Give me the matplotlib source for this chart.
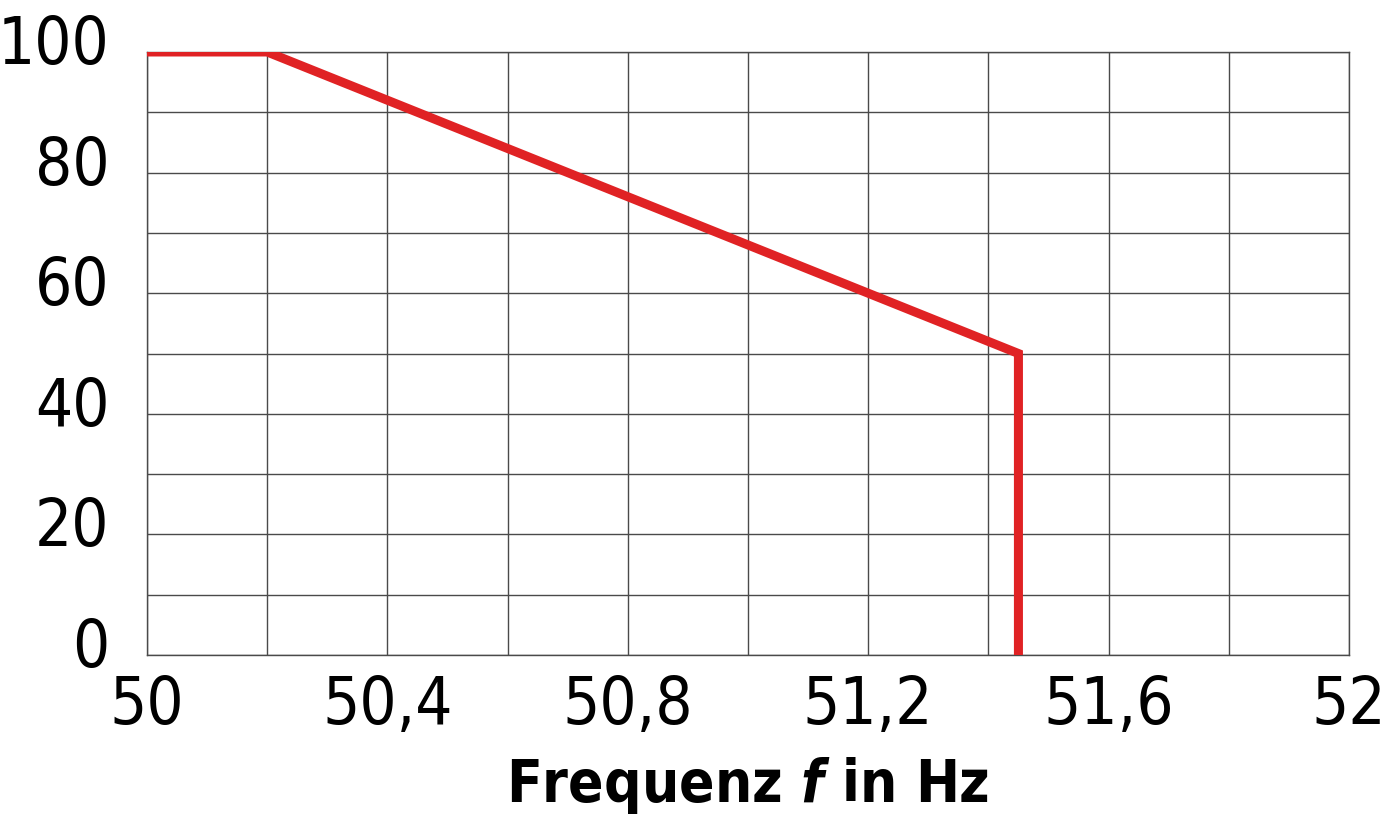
import matplotlib.pyplot as plt
import matplotlib.transforms as mtransforms
from matplotlib.ticker import MultipleLocator, FixedLocator

# data
freq = [50.0, 50.2, 51.45, 51.45]
power = [100, 100, 50, 0]
xticks = [50.0, 50.4, 50.8, 51.2, 51.6, 52.0]
xticklabels = ["50", "50,4", "50,8", "51,2", "51,6", "52"]
yticks = [0, 20, 40, 60, 80, 100]

plt.rcParams["font.family"] = ["DejaVu Sans"]
plt.rcParams["font.stretch"] = "condensed"
plt.rcParams["mathtext.fontset"] = "custom"
plt.rcParams["mathtext.bfit"] = "DejaVu Sans:bold:italic"

fig = plt.figure(figsize=(13.89, 8.25), dpi=100)
ax = fig.add_axes([0.1058, 0.206, 0.9712 - 0.1058, 0.937 - 0.206])

ax.plot(freq, power, color="#e02224", lw=6.5, solid_joinstyle="miter", zorder=3)

ax.set_xlim(50, 52)
ax.set_ylim(0, 100)
ax.xaxis.set_major_locator(FixedLocator(xticks))
ax.set_xticklabels(xticklabels)
ax.yaxis.set_major_locator(FixedLocator(yticks))
ax.xaxis.set_minor_locator(MultipleLocator(0.2))
ax.yaxis.set_minor_locator(MultipleLocator(10))
ax.grid(True, which="both", color="#4a4a4a", lw=1.0)
ax.tick_params(which="both", length=0, labelsize=47)
ax.tick_params(axis="x", pad=14)
ax.tick_params(axis="y", pad=27)
for s in ax.spines.values():
    s.set_color("#4a4a4a")
    s.set_linewidth(1.0)

# lift y labels slightly like the original
off = mtransforms.ScaledTranslation(0, 13 / 100, fig.dpi_scale_trans)
for lab in ax.get_yticklabels():
    lab.set_transform(lab.get_transform() + off)

ax.set_xlabel(r"Frequenz $\mathbfit{f}$ in Hz", fontsize=42, fontweight="bold", labelpad=12)

fig.savefig("out.png", dpi=100)
